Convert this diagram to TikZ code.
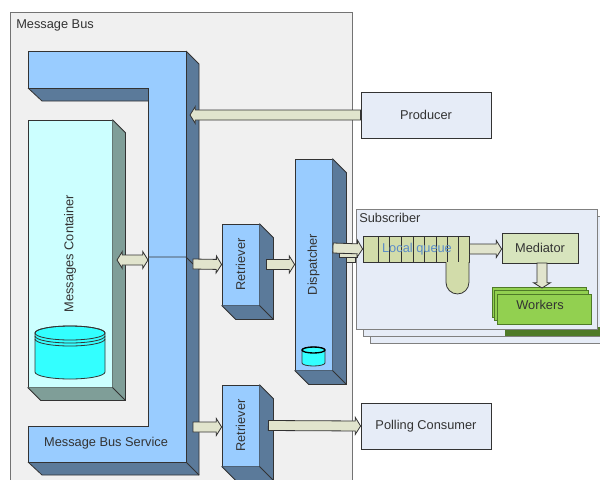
\documentclass[tikz,border=0pt]{standalone}
\usepackage{fontspec}
\setmainfont{Liberation Sans}
\usepackage{graphicx}
\usetikzlibrary{calc}
\definecolor{busbg}{HTML}{F0F0F0}
\definecolor{lblue}{HTML}{99CCFF}
\definecolor{dblue}{HTML}{5B7A9A}
\definecolor{cfront}{HTML}{CCFFFF}
\definecolor{cside}{HTML}{7F9E98}
\definecolor{cyl}{HTML}{33FFFF}
\definecolor{beige}{HTML}{E1E4CD}
\definecolor{ext}{HTML}{E6ECF7}
\definecolor{qgreen}{HTML}{D2DCAA}
\definecolor{mgreen}{HTML}{D7E4BD}
\definecolor{wgreen}{HTML}{92D050}
\definecolor{wdark}{HTML}{4F7A28}
\definecolor{txt}{HTML}{333333}
\definecolor{qtext}{HTML}{5B8CC8}
\begin{document}
\begin{tikzpicture}[x=0.75pt,y=-0.75pt,
  font=\fontsize{9.6}{11}\selectfont, text=txt,
  edge/.style={draw=black!80, line width=0.6pt},
  sz/.style 2 args={minimum width={#1*0.75pt},minimum height={#2*0.75pt}},
  front/.style={edge, fill=lblue, inner sep=0pt, rectangle},
  extbox/.style={edge, fill=ext, inner sep=0pt, rectangle},
  blk/.style={edge, fill=beige, to path={let \p1=(\tikztostart), \p2=(\tikztotarget),
     \n1={veclen(\x2-\x1,\y2-\y1)}, \n2={atan2(\y2-\y1,\x2-\x1)} in
     ([shift={(\p1)},rotate=\n2]0pt,3.75pt) -- ([shift={(\p1)},rotate=\n2]{\n1-4pt},3.75pt)
     -- ([shift={(\p1)},rotate=\n2]{\n1-4pt},6.4pt) -- (\p2)
     -- ([shift={(\p1)},rotate=\n2]{\n1-4pt},-6.4pt) -- ([shift={(\p1)},rotate=\n2]{\n1-4pt},-3.75pt)
     -- ([shift={(\p1)},rotate=\n2]0pt,-3.75pt) -- cycle}},
  blkk/.style={edge, fill=beige, to path={let \p1=(\tikztostart), \p2=(\tikztotarget),
     \n1={veclen(\x2-\x1,\y2-\y1)}, \n2={atan2(\y2-\y1,\x2-\x1)} in
     (\p1) -- ([shift={(\p1)},rotate=\n2]4pt,6.4pt) -- ([shift={(\p1)},rotate=\n2]4pt,3.75pt)
     -- ([shift={(\p1)},rotate=\n2]{\n1-4pt},3.75pt)
     -- ([shift={(\p1)},rotate=\n2]{\n1-4pt},6.4pt) -- (\p2)
     -- ([shift={(\p1)},rotate=\n2]{\n1-4pt},-6.4pt) -- ([shift={(\p1)},rotate=\n2]{\n1-4pt},-3.75pt)
     -- ([shift={(\p1)},rotate=\n2]4pt,-3.75pt) -- ([shift={(\p1)},rotate=\n2]4pt,-6.4pt) -- cycle}}
]
\useasboundingbox (0,0) rectangle (600,479);
% Message Bus frame
\node[draw=black!55, fill=busbg, line width=0.6pt, inner sep=0pt, sz={342}{475}, anchor=north west] (bus) at (10,12) {};
\node[anchor=north west, inner sep=0pt] (bustitle) at (16,19) {Message Bus};

% Message Bus Service (C shape)
\fill[dblue] (186,51) -- (199,64) -- (199,475) -- (186,462) -- cycle;
\fill[dblue] (28,462) -- (42,475) -- (199,475) -- (186,462) -- cycle;
\fill[dblue] (28,88) -- (42,101) -- (148,101) -- (148,88) -- cycle;
\draw[edge] (186,51) -- (199,64) -- (199,475) -- (42,475) -- (28,462);
\draw[edge] (186,462) -- (199,475);
\draw[edge] (28,88) -- (42,101) -- (148,101);
\draw[edge, fill=lblue] (28,51) -- (186,51) -- (186,462) -- (28,462) -- (28,426) -- (148,426) -- (148,88) -- (28,88) -- cycle;
\node (mbs) at (106,443) {Message Bus Service};

% Messages Container
\node[edge, fill=cfront, sz={84}{267}, inner sep=0pt] (mc) at (70,253.5) {\rotatebox{90}{Messages Container}};
\fill[cside] (mc.north east) -- ++(13,13) -- ([shift={(13,13)}]mc.south east) -- ([shift={(13,13)}]mc.south west) -- (mc.south west) -- (mc.south east) -- cycle;
\draw[edge] (mc.north east) -- ++(13,13) -- ([shift={(13,13)}]mc.south east) -- ([shift={(13,13)}]mc.south west) -- (mc.south west);
\draw[edge] (mc.south east) -- ++(13,13);
% cylinder
\draw[edge, fill=cyl] (35,333) -- (35,372) arc[start angle=180, end angle=360, x radius=26.25pt, y radius=5.25pt]
  -- (105,333) arc[start angle=0, end angle=180, x radius=26.25pt, y radius=5.25pt] -- cycle;
\draw[edge] (70,333) ellipse[x radius=26.25pt, y radius=5.25pt];
\draw[edge] (35,336) arc[start angle=180, end angle=360, x radius=26.25pt, y radius=5.25pt];
\draw[edge] (35,339) arc[start angle=180, end angle=360, x radius=26.25pt, y radius=5.25pt];

% Retrievers and Dispatcher
\node[front, sz={37}{81}] (ret1) at (240.5,264.5) {\rotatebox{90}{Retriever}};
\node[front, sz={37}{81}] (ret2) at (240.5,425.5) {\rotatebox{90}{Retriever}};
\node[front, sz={37}{211}] (disp) at (313.5,264.5) {\rotatebox{90}{Dispatcher}};
\foreach \n in {ret1,ret2,disp}{
  \fill[dblue] (\n.north east) -- ++(14,14) -- ([shift={(14,14)}]\n.south east) -- ([shift={(14,14)}]\n.south west) -- (\n.south west) -- (\n.south east) -- cycle;
  \draw[edge] (\n.north east) -- ++(14,14) -- ([shift={(14,14)}]\n.south east) -- ([shift={(14,14)}]\n.south west) -- (\n.south west);
  \draw[edge] (\n.south east) -- ++(14,14);
}
% small cylinder in dispatcher
\draw[edge, fill=cyl] (302,350) -- (302,363) arc[start angle=180, end angle=360, x radius=8.6pt, y radius=2.25pt]
  -- (325,350) arc[start angle=0, end angle=180, x radius=8.6pt, y radius=2.25pt] -- cycle;
\draw[line width=1pt] (313.5,350) ellipse[x radius=8.6pt, y radius=2.25pt];

% Producer and Polling Consumer
\node[extbox, sz={130}{46}] (prod) at (426,115) {Producer};
\node[extbox, sz={130}{46}] (poll) at (426,426) {Polling Consumer};

% Subscriber
\node[draw=black!50, fill=ext, line width=0.6pt, sz={241}{120}, inner sep=0pt] (sub3) at (490.5,283) {};
\node[draw=black!50, fill=ext, line width=0.6pt, sz={241}{120}, inner sep=0pt] (sub2) at (483.5,276) {};
\fill[wdark] (505,327) rectangle (600,336);
\node[draw=black!50, fill=ext, line width=0.6pt, sz={241}{120}, inner sep=0pt] (sub) at (476.5,269) {};
\node[anchor=north west, inner sep=0pt] (subtitle) at (359,213) {Subscriber};

% Local queue
\node[edge, fill=qgreen, sz={106}{26}, inner sep=0pt] (lq) at (416,249) {};
\draw[edge, fill=qgreen] (446,262) -- (446,282.5) arc[start angle=180, end angle=360, radius=8.6pt] -- (469,262);
\foreach \cx in {378,389,401,413,424,436,447,458}{
  \draw[edge] (\cx,236) -- (\cx,262);
}
\node[text=qtext] (lqt) at (417,249) {Local queue};

% Mediator and Workers
\node[edge, fill=mgreen, sz={76}{30}, inner sep=0pt] (med) at (540,248) {Mediator};
\node[draw=wdark, line width=0.6pt, fill=wgreen, sz={94}{30}, inner sep=0pt] (wk3) at (539,302) {};
\node[draw=wdark, line width=0.6pt, fill=wgreen, sz={94}{30}, inner sep=0pt] (wk2) at (541.5,305.5) {};
\node[draw=wdark, line width=0.6pt, fill=wgreen, sz={94}{30}, inner sep=0pt] (wk) at (544,309.5) {};
\node (wkt) at (540,305) {Workers};

% Connectors
\coordinate (busP) at (190,115);
\draw[blk] (prod.west) to (busP);
\coordinate (mcR) at (117,260);
\coordinate (busL) at (148,260);
\draw[blkk] (mcR) to (busL);
\coordinate (busA) at (186,257);
\coordinate (busB) at (193,264);
\draw[edge] (148,257) -- (busA) -- (busB);
\draw[blk] (busB) to (ret1.west);
\draw[blk] ([shift={(7,0)}]ret1.east) to (disp.west);
\draw[edge, fill=beige] (339,253) rectangle (357,257.5);
\draw[edge, fill=beige] (346,257.5) rectangle (355,262.5);
\coordinate (dispO) at (333,248);
\draw[blk] (dispO) to (lq.west);
\coordinate (busC) at (193,427);
\draw[blk] (busC) to (ret2.west |- busC);
\draw[blk] ([shift={(9,0)}]ret2.east) to (poll.west);
\draw[blk] (lq.east) to (med.west |- lq.east);
\coordinate (medS) at (542,263);
\coordinate (wkN) at (542,288);
\draw[blk] (medS) to (wkN);
\end{tikzpicture}
\end{document}
